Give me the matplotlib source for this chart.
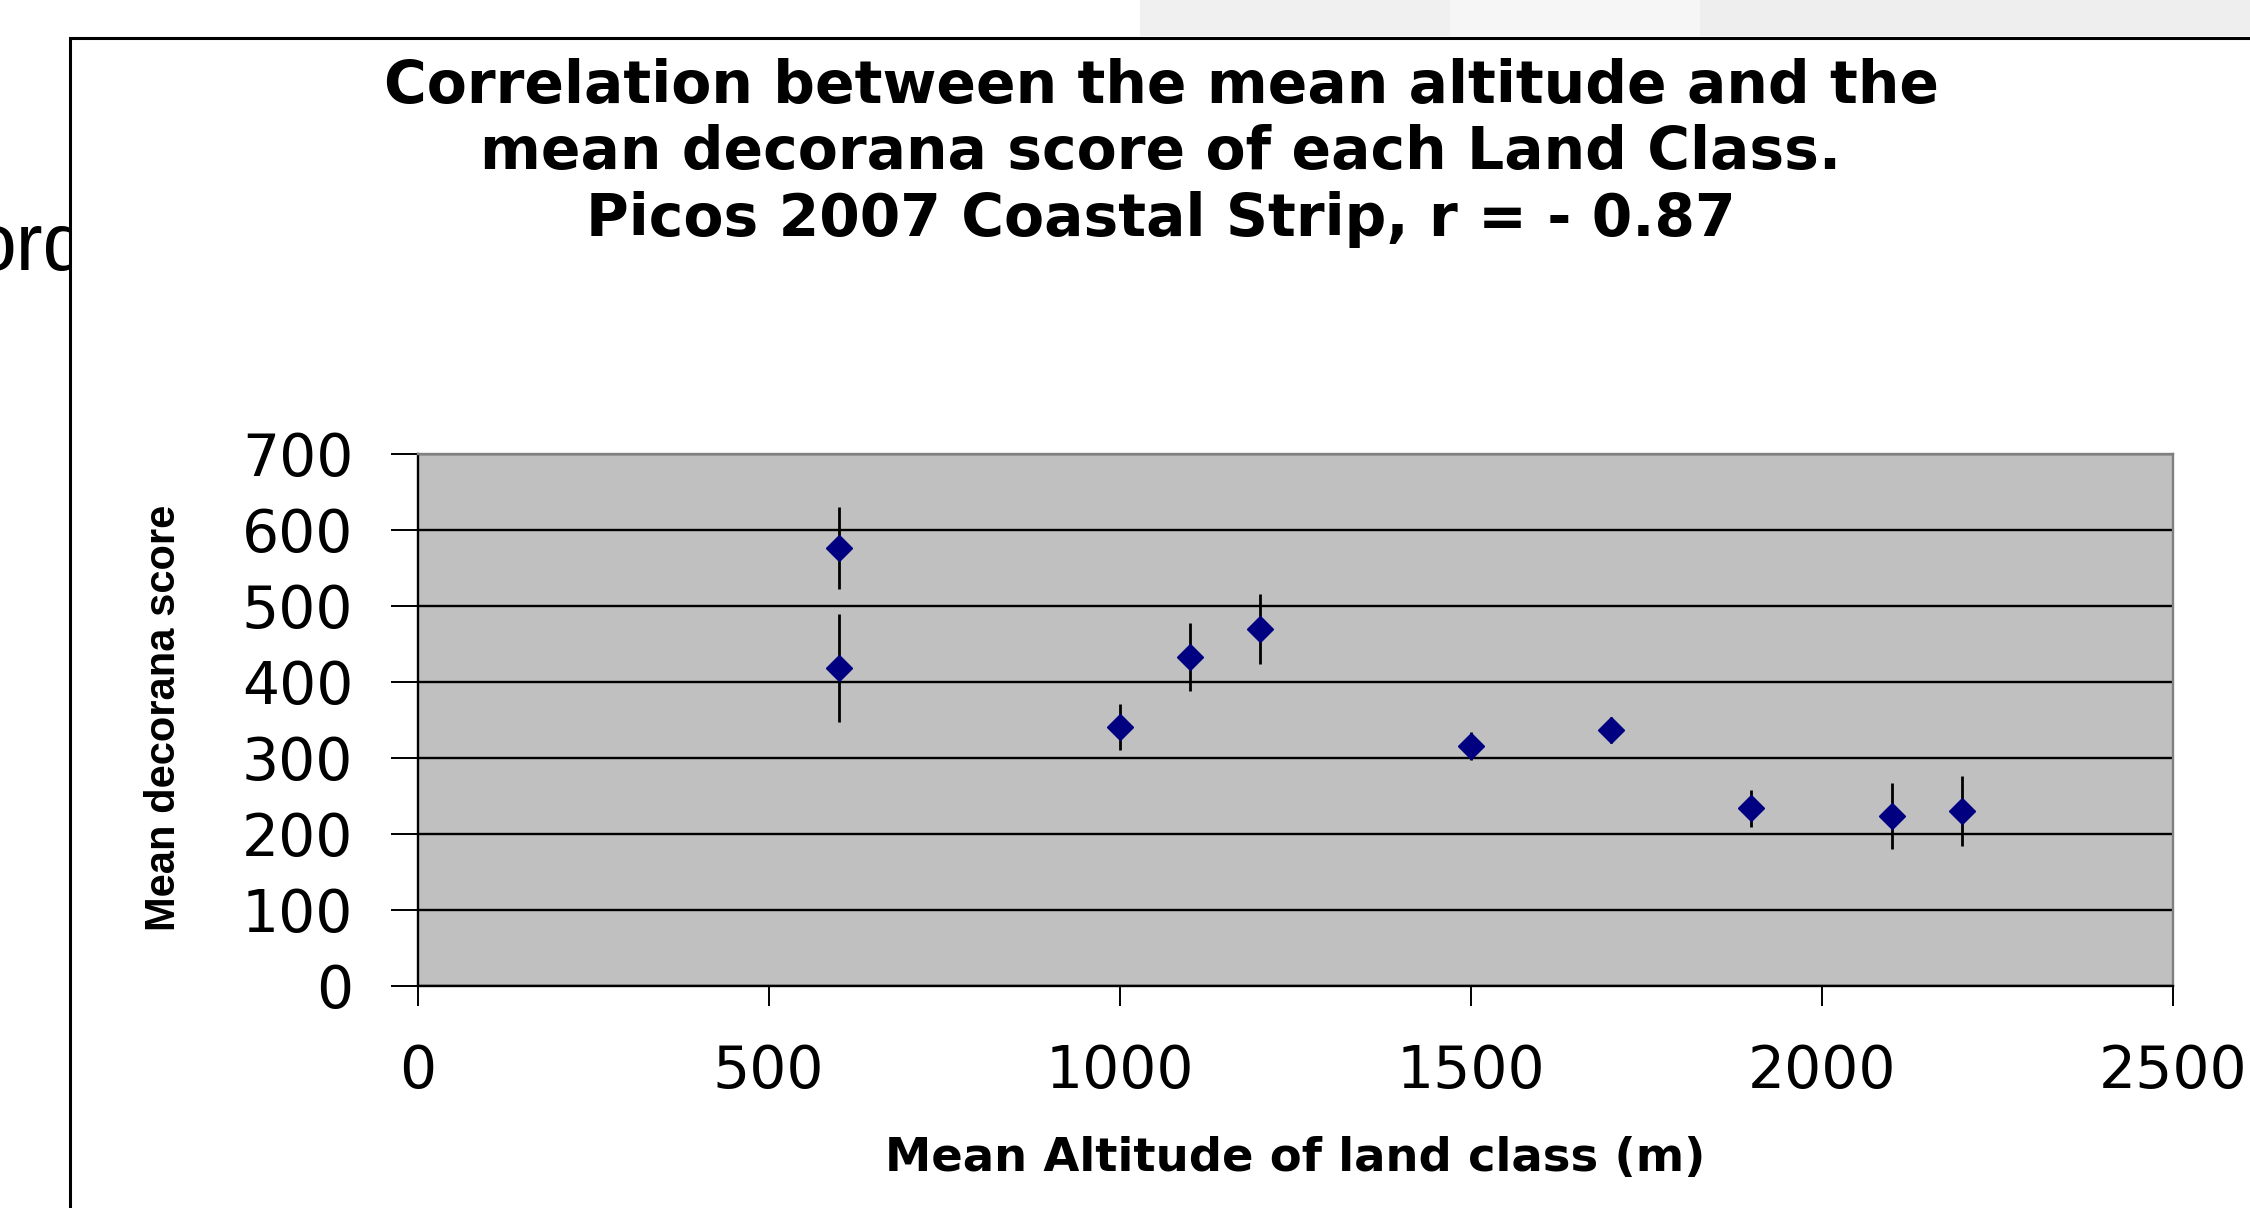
import matplotlib
matplotlib.use("Agg")
import matplotlib.pyplot as plt
from matplotlib.patches import Rectangle

# data
altitude = [600, 600, 1000, 1100, 1200, 1500, 1700, 1900, 2100, 2200]
score = [576, 418, 340, 432, 469, 315, 336, 233, 223, 230]
score_err = [54, 71, 30, 45, 46, 18, 17, 24, 43, 46]

x_ticks = [0, 500, 1000, 1500, 2000, 2500]
y_ticks = [0, 100, 200, 300, 400, 500, 600, 700]

title_lines = ["Correlation between the mean altitude and the",
               "mean decorana score of each Land Class.",
               "Picos 2007 Coastal Strip, r = - 0.87"]
x_label = "Mean Altitude of land class (m)"
y_label = "Mean decorana score"

W, H = 2250, 1208
fig = plt.figure(figsize=(W / 100, H / 100), dpi=100)
fig.patch.set_facecolor("white")

# faint background picture showing through above the frame
for x0, x1, c in [(1140, 1450, "#f0f0f0"), (1450, 1700, "#f6f6f6"),
                  (1700, 2250, "#eeeeee")]:
    fig.add_artist(Rectangle((x0 / W, 1 - 36 / H), (x1 - x0) / W, 36 / H,
                             transform=fig.transFigure, color=c,
                             lw=0, zorder=-3))

# leftover slide text, partly hidden by the chart frame
fig.text(88 / W, 1 - 270 / H, "ord", ha="right", va="baseline",
         fontsize=58, family=["Liberation Sans", "DejaVu Sans"], zorder=-2)

# chart frame
fig.add_artist(Rectangle((70 / W, -0.1), 1.2, 1 - 38 / H + 0.1,
                         transform=fig.transFigure, facecolor="white",
                         edgecolor="black", lw=2.2, zorder=-1))

for i, line in enumerate(title_lines):
    fig.text(1161 / W, 1 - (86 + 67 * i) / H, line, ha="center", va="center",
             fontsize=42, fontweight="bold", family="DejaVu Sans")

ax = fig.add_axes([417.6 / W, 1 - 985.5 / H, 1755 / W, 532 / H])
ax.set_facecolor("#c0c0c0")
ax.set_axisbelow(True)
ax.yaxis.grid(True, color="black", lw=1.7)

ax.errorbar(altitude, score, yerr=score_err, fmt="D", color="#000080",
            ms=13, ecolor="black", elinewidth=2.0, capsize=0, zorder=3)

ax.set_xlim(0, 2500)
ax.set_ylim(0, 700)
ax.set_xticks(x_ticks)
ax.set_yticks(y_ticks)
ax.tick_params(axis="x", length=14.4, width=1.4, pad=27, labelsize=42)
ax.tick_params(axis="y", length=19.4, width=1.4, pad=27, labelsize=42)

for side in ["left", "bottom"]:
    ax.spines[side].set_color("black")
    ax.spines[side].set_linewidth(1.7)
for side in ["top", "right"]:
    ax.spines[side].set_color("#808080")
    ax.spines[side].set_linewidth(1.7)

ax.set_xlabel(x_label, fontsize=33.5, fontweight="bold")
ax.xaxis.set_label_coords(0.5, -0.283)
ax.set_ylabel(y_label, fontsize=30, fontweight="bold",
              family=["Liberation Sans", "DejaVu Sans"])
ax.yaxis.set_label_coords(-0.1333, 0.503)

plt.savefig("out.png", dpi=100)
